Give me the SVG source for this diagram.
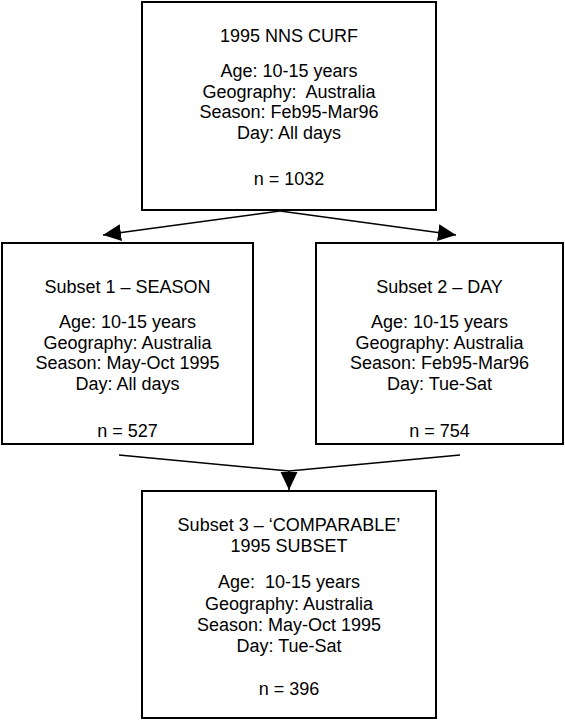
<svg xmlns="http://www.w3.org/2000/svg" width="565" height="720" viewBox="0 0 565 720">
<style>
.box{fill:#fff;stroke:#000;stroke-width:2}
.t{font-family:"Liberation Sans",Arial,sans-serif;font-size:18px;fill:#000;text-anchor:middle}
.c{fill:none;stroke:#000;stroke-width:1.5}
</style>
<defs>
<marker id="ah" markerUnits="userSpaceOnUse" markerWidth="19" markerHeight="18" refX="18" refY="8.5" orient="auto" viewBox="0 0 19 18">
<path d="M0,0 L18,8.5 L0,17 Z" fill="#000"/>
</marker>
</defs>
<rect width="565" height="720" fill="#fff"/>
<g id="connectors">
<line class="c" x1="280" y1="211" x2="103" y2="235" marker-end="url(#ah)"/>
<line class="c" x1="280" y1="211" x2="456" y2="235" marker-end="url(#ah)"/>
<polyline class="c" points="119,455 289,471 460,455"/>
<line class="c" x1="289" y1="471" x2="289" y2="490" marker-end="url(#ah)"/>
</g>
<g id="node-curf">
<rect class="box" x="142" y="2" width="294" height="208"/>
<text class="t" x="289" y="42">1995 NNS CURF</text>
<text class="t" x="289" y="77">Age: 10-15 years</text>
<text class="t" x="289" y="97.7">Geography:&#160; Australia</text>
<text class="t" x="289" y="118.4">Season: Feb95-Mar96</text>
<text class="t" x="289" y="139">Day: All days</text>
<text class="t" x="289" y="185">n = 1032</text>
</g>
<g id="node-subset1">
<rect class="box" x="2" y="243" width="251" height="201"/>
<text class="t" x="127.5" y="293">Subset 1 – SEASON</text>
<text class="t" x="127.5" y="328">Age: 10-15 years</text>
<text class="t" x="127.5" y="348.5">Geography: Australia</text>
<text class="t" x="127.5" y="369">Season: May-Oct 1995</text>
<text class="t" x="127.5" y="389.5">Day: All days</text>
<text class="t" x="127.5" y="437">n = 527</text>
</g>
<g id="node-subset2">
<rect class="box" x="316" y="243" width="247" height="201"/>
<text class="t" x="439.5" y="293">Subset 2 – DAY</text>
<text class="t" x="439.5" y="328">Age: 10-15 years</text>
<text class="t" x="439.5" y="348.5">Geography: Australia</text>
<text class="t" x="439.5" y="369">Season: Feb95-Mar96</text>
<text class="t" x="439.5" y="389.5">Day: Tue-Sat</text>
<text class="t" x="439.5" y="437">n = 754</text>
</g>
<g id="node-subset3">
<rect class="box" x="142" y="491" width="294" height="227"/>
<text class="t" x="289" y="531">Subset 3 – ‘COMPARABLE’</text>
<text class="t" x="289" y="552">1995 SUBSET</text>
<text class="t" x="289" y="588">Age:&#160; 10-15 years</text>
<text class="t" x="289" y="609.5">Geography: Australia</text>
<text class="t" x="289" y="630.5">Season: May-Oct 1995</text>
<text class="t" x="289" y="651.5">Day: Tue-Sat</text>
<text class="t" x="289" y="695">n = 396</text>
</g>
</svg>
